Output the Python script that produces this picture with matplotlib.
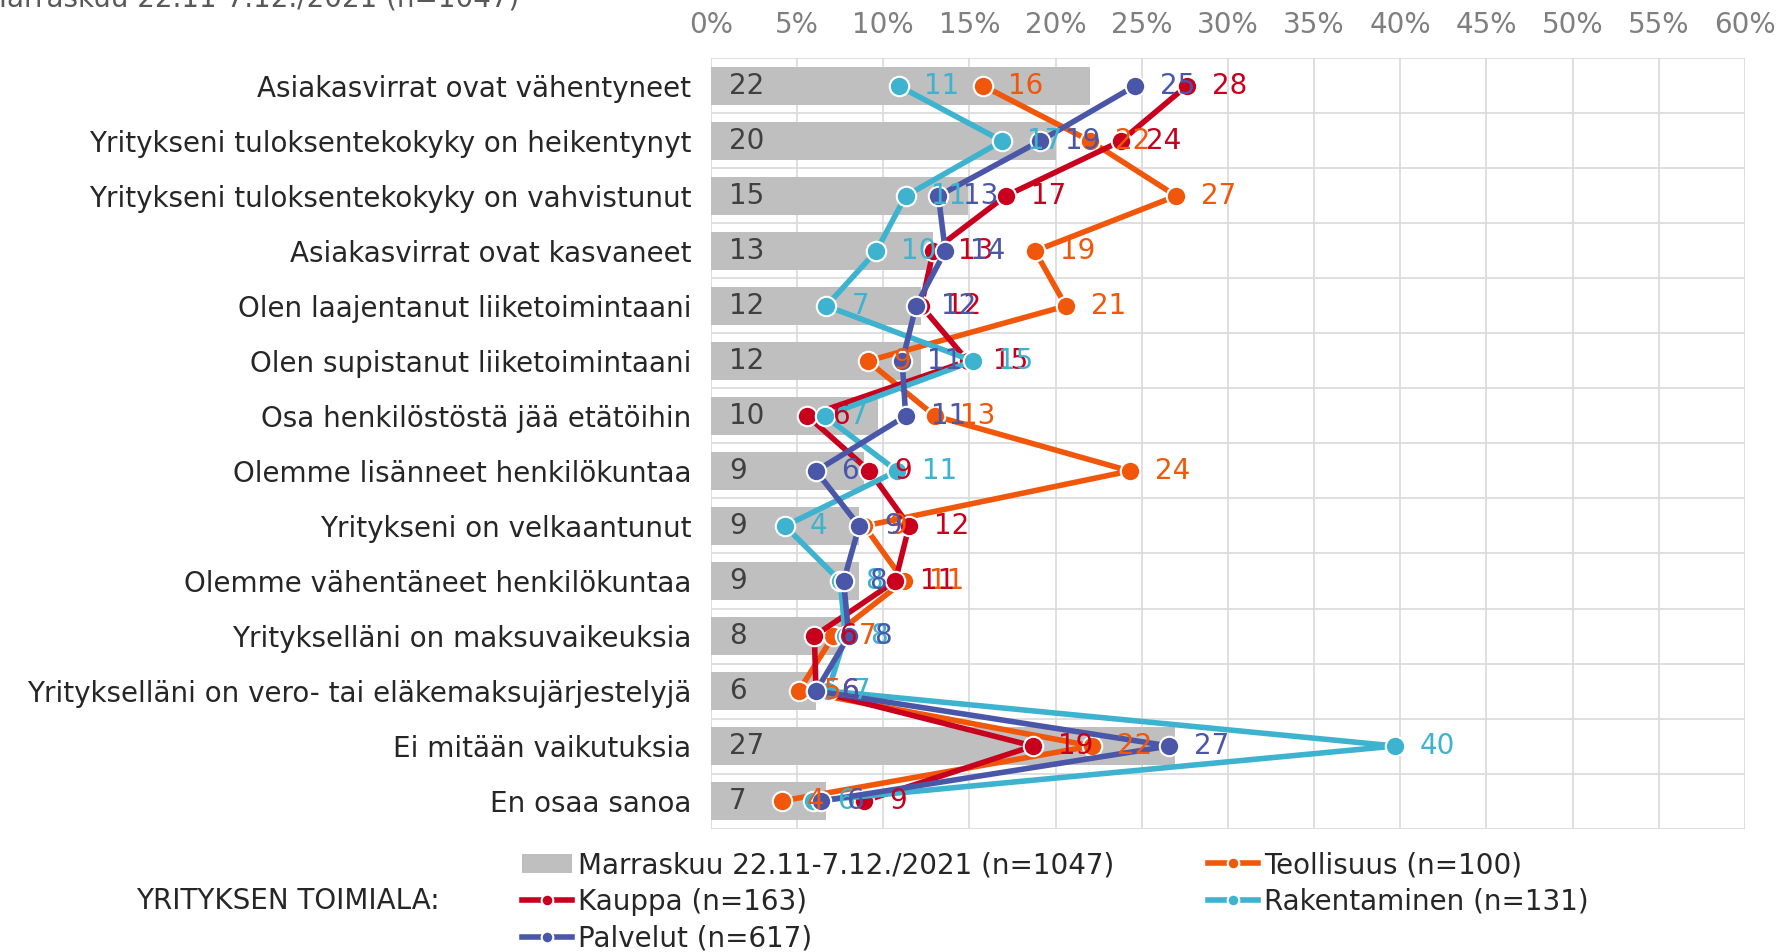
#!/usr/bin/env python3
"""Yrityksen toimiala: vaikutukset, Marraskuu 2021 kysely."""

import matplotlib
matplotlib.use("Agg")
import matplotlib.pyplot as plt
import matplotlib.ticker as mticker
import numpy as np

CATEGORIES = [
    "Asiakasvirrat ovat vähentyneet",
    "Yritykseni tuloksentekokyky on heikentynyt",
    "Yritykseni tuloksentekokyky on vahvistunut",
    "Asiakasvirrat ovat kasvaneet",
    "Olen laajentanut liiketoimintaani",
    "Olen supistanut liiketoimintaani",
    "Osa henkilöstöstä jää etätöihin",
    "Olemme lisänneet henkilökuntaa",
    "Yritykseni on velkaantunut",
    "Olemme vähentäneet henkilökuntaa",
    "Yritykselläni on maksuvaikeuksia",
    "Yritykselläni on vero- tai eläkemaksujärjestelyjä",
    "Ei mitään vaikutuksia",
    "En osaa sanoa",
]

# kaikki vastaajat (palkit)
TOTAL = [22, 20, 14.9, 12.9, 12.2, 12.2, 9.7, 8.9, 8.6, 8.6, 7.6, 6.1, 26.9, 6.7]
# toimialat (viivat)
TEOLLISUUS = [15.8, 22.0, 27.0, 18.8, 20.6, 9.1, 13.0, 24.3, 8.9, 11.2, 7.1, 5.1, 22.1, 4.1]
KAUPPA = [27.6, 23.8, 17.1, 12.9, 12.2, 14.9, 5.6, 9.2, 11.5, 10.7, 6.0, 6.1, 18.7, 8.9]
RAKENTAMINEN = [10.9, 16.9, 11.3, 9.6, 6.7, 15.2, 6.6, 10.8, 4.3, 7.5, 7.8, 6.8, 39.7, 5.9]
PALVELUT = [24.6, 19.1, 13.2, 13.6, 11.9, 11.1, 11.3, 6.1, 8.6, 7.7, 8.0, 6.1, 26.6, 6.4]

TOTAL_LABEL = "Marraskuu 22.11-7.12./2021 (n=1047)"
SERIES = [
    ("Teollisuus (n=100)", TEOLLISUUS, "#F0570A"),
    ("Kauppa (n=163)", KAUPPA, "#C8001E"),
    ("Rakentaminen (n=131)", RAKENTAMINEN, "#3DB3CF"),
    ("Palvelut (n=617)", PALVELUT, "#4A56A8"),
]

FS = 20
plt.rcParams["font.family"] = ["DejaVu Sans"]

fig = plt.figure(figsize=(17.8, 9.52), dpi=100)
ax = fig.add_axes([0.3994, 0.1297, 0.5809, 0.8089])

y = np.arange(len(CATEGORIES))
bars = ax.barh(y, TOTAL, height=0.7, color="#BFBFBF", zorder=2, label=TOTAL_LABEL)
for yi, v in zip(y, TOTAL):
    ax.annotate(f"{v:.0f}", (0, yi), xytext=(13, 0), textcoords="offset points",
                ha="left", va="center", fontsize=FS, color="#404040", zorder=6)

lines = {}
for name, vals, color in SERIES:
    ln, = ax.plot(vals, y, color=color, lw=4, marker="o", ms=14,
                  mec="white", mew=1.5, zorder=3, label=name)
    lines[name] = ln
    for yi, v in zip(y, vals):
        ax.annotate(f"{v:.0f}", (v, yi), xytext=(18, 0), textcoords="offset points",
                    ha="left", va="center", fontsize=FS, color=color, zorder=6)

ax.set_xlim(0, 60)
ax.set_ylim(len(CATEGORIES) - 0.5, -0.5)
ax.set_xticks(np.arange(0, 61, 5))
ax.xaxis.set_major_formatter(mticker.FuncFormatter(lambda v, p: f"{v:.0f}%"))
ax.xaxis.tick_top()
ax.tick_params(axis="x", length=0, pad=14, labelsize=FS, labelcolor="#7F7F7F")
ax.set_yticks(y)
ax.set_yticklabels(CATEGORIES)
ax.tick_params(axis="y", length=0, pad=14, labelsize=FS, labelcolor="#262626")
ax.set_yticks(np.arange(-0.5, len(CATEGORIES), 1), minor=True)
ax.tick_params(axis="y", which="minor", length=0)
ax.grid(axis="x", which="major", color="#D9D9D9", lw=1.2)
ax.grid(axis="y", which="minor", color="#D9D9D9", lw=1.2)
ax.set_axisbelow(True)
for s in ax.spines.values():
    s.set_visible(False)

handles = [bars, lines["Kauppa (n=163)"], lines["Palvelut (n=617)"],
           lines["Teollisuus (n=100)"], lines["Rakentaminen (n=131)"]]
fig.legend(handles=handles, labels=[h.get_label() for h in handles],
           ncol=2, loc="upper left", bbox_to_anchor=(0.2933, 0.106),
           frameon=False, fontsize=FS, handlelength=1.8, handletextpad=0.2,
           columnspacing=3.4, labelspacing=0.31, borderpad=0, borderaxespad=0,
           markerscale=0.6, labelcolor="#262626")
fig.text(0.0764, 0.0536, "YRITYKSEN TOIMIALA:", fontsize=FS, color="#262626",
         ha="left", va="center")
fig.text(519 / 1780, 1 - 7 / 952, TOTAL_LABEL, fontsize=FS, color="#595959",
         ha="right", va="baseline")

fig.savefig("out.png", dpi=100)
